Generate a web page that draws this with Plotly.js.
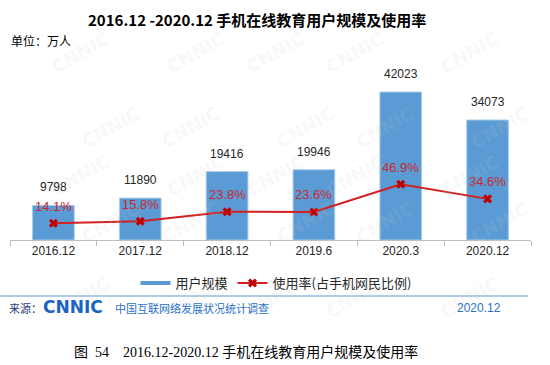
<!DOCTYPE html>
<html><head><meta charset="utf-8">
<script src="https://cdn.plot.ly/plotly-3.0.1.min.js"></script>
<style>html,body{margin:0;padding:0;background:#fff}#chart{width:550px;height:365px}</style>
</head><body><div id="chart"></div>
<script>
const categories = ["2016.12", "2017.12", "2018.12", "2019.6", "2020.3", "2020.12"];
const users = [9798, 11890, 19416, 19946, 42023, 34073];
const rate = [14.1, 15.8, 23.8, 23.6, 46.9, 34.6];
const rateLabels = ["14.1%", "15.8%", "23.8%", "23.6%", "46.9%", "34.6%"];
const barName = "用户规模";
const lineName = "使用率(占手机网民比例)";

const W = 550, H = 365, L = 10, R = 19, T = 70, B = 125;
const pw = W - L - R, ph = H - T - B;
const px = x => (x - L) / pw;
const py = y => (H - B - y) / ph;

const CJK = '"Noto Sans CJK SC", "Liberation Sans", sans-serif';
const SANS = '"Liberation Sans", Arial, sans-serif';
const SERIF = '"Liberation Serif", "Noto Sans CJK SC", serif';

const traces = [
  {type: 'bar', x: categories, y: users, name: barName, showlegend: false,
   marker: {color: '#5b9bd5', line: {color: '#a9cbe9', width: 1}}, width: 0.48},
  {type: 'scatter', mode: 'lines', x: [0, 1], y: [-10, -10], xaxis: 'x2', yaxis: 'y3', name: barName,
   line: {color: '#5b9bd5', width: 4}, hoverinfo: 'skip'},
  {type: 'scatter', mode: 'lines+markers', x: categories, y: rate, yaxis: 'y2', name: lineName,
   line: {color: '#d21f1f', width: 2}, marker: {symbol: 'x', size: 8, color: '#c00000'}}
];

const annotations = [];
// watermark (decorative, drawn first)
for (let r = 0; r < 5; r++) for (let c = 0; c < 5; c++) {
  annotations.push({xref: 'paper', yref: 'paper', x: px(45 + c * 115 + (r % 2) * 30), y: py(25 + r * 75),
    text: 'CNNIC', showarrow: false, textangle: -30,
    font: {family: '"DejaVu Sans", sans-serif', size: 18, color: 'rgba(200,200,200,0.12)', weight: 'bold'}});
}
users.forEach((v, i) => annotations.push({x: i, y: v, xref: 'x', yref: 'y', text: String(v),
  showarrow: false, yanchor: 'bottom', yshift: 9, font: {family: SANS, size: 12, color: '#262626'}}));
rate.forEach((v, i) => annotations.push({x: i, y: v, xref: 'x', yref: 'y2', text: rateLabels[i],
  showarrow: false, yanchor: 'middle', yshift: 17, font: {family: SANS, size: 13, color: '#c8282d'}}));

annotations.push(
  {xref: 'paper', yref: 'paper', x: px(257), y: py(20), text: '<b>2016.12 -2020.12 手机在线教育用户规模及使用率</b>',
   showarrow: false, xanchor: 'center', yanchor: 'middle', font: {family: CJK, size: 15, color: '#000'}},
  {xref: 'paper', yref: 'paper', x: px(9), y: py(41), text: '单位：万人',
   showarrow: false, xanchor: 'left', yanchor: 'middle', font: {family: CJK, size: 12, color: '#000'}},
  {xref: 'paper', yref: 'paper', x: px(7), y: py(308), text: '来源：',
   showarrow: false, xanchor: 'left', yanchor: 'middle', font: {family: CJK, size: 11, color: '#1f3d7a'}},
  {xref: 'paper', yref: 'paper', x: px(41), y: py(307), text: '<b>CNNIC</b>',
   showarrow: false, xanchor: 'left', yanchor: 'middle', font: {family: '"DejaVu Sans", sans-serif', size: 17, color: '#1a63c0'}},
  {xref: 'paper', yref: 'paper', x: px(113), y: py(308), text: '中国互联网络发展状况统计调查',
   showarrow: false, xanchor: 'left', yanchor: 'middle', font: {family: CJK, size: 11, color: '#2a72c8'}},
  {xref: 'paper', yref: 'paper', x: px(503), y: py(308), text: '2020.12',
   showarrow: false, xanchor: 'right', yanchor: 'middle', font: {family: SANS, size: 12, color: '#2a72c8'}},
  {xref: 'paper', yref: 'paper', x: px(246), y: py(352), text: '图  54    2016.12-2020.12 手机在线教育用户规模及使用率',
   showarrow: false, xanchor: 'center', yanchor: 'middle', font: {family: SERIF, size: 14, color: '#000'}}
);

const layout = {
  width: W, height: H, margin: {l: L, r: R, t: T, b: B}, paper_bgcolor: '#fff', plot_bgcolor: 'rgba(0,0,0,0)',
  showlegend: true,
  legend: {orientation: 'h', x: px(276), xanchor: 'center', y: py(283), yanchor: 'middle',
    font: {family: CJK, size: 13, color: '#262626'}, itemwidth: 30, traceorder: 'normal', bgcolor: 'rgba(0,0,0,0)'},
  xaxis: {type: 'category', categoryorder: 'array', categoryarray: categories, range: [-0.5, 5.5], autorange: false,
    showgrid: false, showline: true,
    linecolor: '#bfbfbf', linewidth: 1, ticks: 'outside', tickson: 'boundaries', ticklen: 5, tickcolor: '#bfbfbf',
    tickangle: 0, tickfont: {family: SANS, size: 12, color: '#262626'}, zeroline: false, fixedrange: true},
  xaxis2: {overlaying: 'x', visible: false, range: [0, 1]},
  yaxis: {range: [0, 42023 * 170 / 148], visible: false, showgrid: false, zeroline: false},
  yaxis2: {range: [0, 143], overlaying: 'y', side: 'right', visible: false, showgrid: false, zeroline: false},
  yaxis3: {range: [0, 1], overlaying: 'y', visible: false},
  bargap: 0.52,
  annotations: annotations,
  shapes: [{type: 'line', xref: 'paper', yref: 'paper', x0: px(0), x1: px(528), y0: py(296), y1: py(296),
    line: {color: '#5b9bd5', width: 1}}]
};

Plotly.newPlot('chart', traces, layout, {staticPlot: true, displayModeBar: false});
</script></body></html>
